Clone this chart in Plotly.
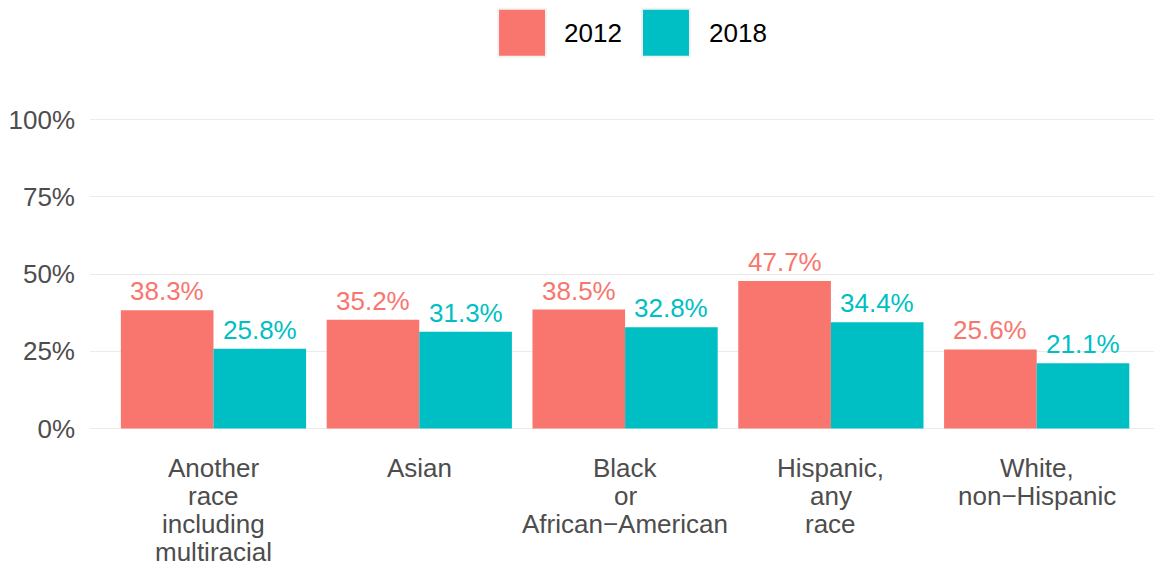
import plotly.graph_objects as go

categories = ["Another race including multiracial", "Asian", "Black or African−American",
              "Hispanic, any race", "White, non−Hispanic"]
label_lines = [["Another", "race", "including", "multiracial"],
               ["Asian"],
               ["Black", "or", "African−American"],
               ["Hispanic,", "any", "race"],
               ["White,", "non−Hispanic"]]
years = ["2012", "2018"]
values_2012 = [0.383, 0.352, 0.385, 0.477, 0.256]
values_2018 = [0.258, 0.313, 0.328, 0.344, 0.211]
colors = {"2012": "#F8766D", "2018": "#00BFC4"}

FONT = "Liberation Sans, Arial, Helvetica, sans-serif"
FS = 26
BARGAP = 0.1

fig = go.Figure()
for year, vals in zip(years, [values_2012, values_2018]):
    fig.add_trace(go.Bar(
        x=categories, y=vals, name=year,
        marker=dict(color=colors[year], line=dict(width=0)),
        showlegend=False,
    ))

annotations = []
# value labels above bars (grouped offsets from bar width)
bar_w = (1 - BARGAP) / len(years)
for k, (year, vals) in enumerate(zip(years, [values_2012, values_2018])):
    off = -(1 - BARGAP) / 2 + bar_w * (k + 0.5)
    for i, v in enumerate(vals):
        annotations.append(dict(
            x=i + off, xref="x", y=v, yref="y", yanchor="bottom", xanchor="center",
            text=f"{v*100:.1f}%", showarrow=False, yshift=2,
            font=dict(size=FS, color=colors[year], family=FONT),
        ))

# x-axis labels, one annotation per line
for cat, lines in zip(categories, label_lines):
    for i, line in enumerate(lines):
        annotations.append(dict(
            x=cat, xref="x", y=0, yref="paper", yanchor="middle", xanchor="center",
            text=line, showarrow=False, yshift=-(24 + 28 * i), borderpad=0,
            font=dict(size=FS, color="#4D4D4D", family=FONT),
        ))

# custom legend
shapes = []
leg_x = [(0.3835, 0.4286), (0.5188, 0.5639)]
leg_text_x = [0.4436, 0.5799]
for year, (x0, x1), tx in zip(years, leg_x, leg_text_x):
    shapes.append(dict(type="rect", xref="paper", yref="paper", x0=x0, x1=x1,
                       y0=1.139, y1=1.280, fillcolor=colors[year],
                       line=dict(color="#F2F2F2", width=2)))
    annotations.append(dict(x=tx, y=1.2097, xref="paper", yref="paper",
                            xanchor="left", yanchor="middle", text=year,
                            showarrow=False,
                            font=dict(size=FS, color="#000000", family=FONT)))

# white vertical lines at category centres (as in the reference grid)
for cat in categories:
    shapes.append(dict(type="line", xref="x", yref="paper", x0=cat, x1=cat,
                       y0=0, y1=1, layer="between",
                       line=dict(color="#FFFFFF", width=2)))

fig.update_layout(
    width=1154, height=567,
    margin=dict(l=90, r=0, t=103.5, b=122.5),
    paper_bgcolor="white", plot_bgcolor="white",
    barmode="group", bargap=BARGAP, bargroupgap=0,
    font=dict(family=FONT, size=FS, color="#4D4D4D"),
    xaxis=dict(range=[-0.6, 4.57], showticklabels=False, showgrid=False,
               zeroline=False, showline=False, ticks=""),
    yaxis=dict(range=[-0.05, 1.05], tickvals=[0, 0.25, 0.5, 0.75, 1.0],
               tickformat=".0%", showgrid=True, gridcolor="#EBEBEB", gridwidth=1,
               zeroline=False, showline=False, ticks="", ticklabelstandoff=14,
               tickfont=dict(size=FS, color="#4D4D4D", family=FONT)),
    shapes=shapes, annotations=annotations,
    showlegend=False,
)

fig.write_html("out.html", config={"displayModeBar": False},
               post_script="document.body.style.margin='0';document.body.style.overflow='hidden';")
